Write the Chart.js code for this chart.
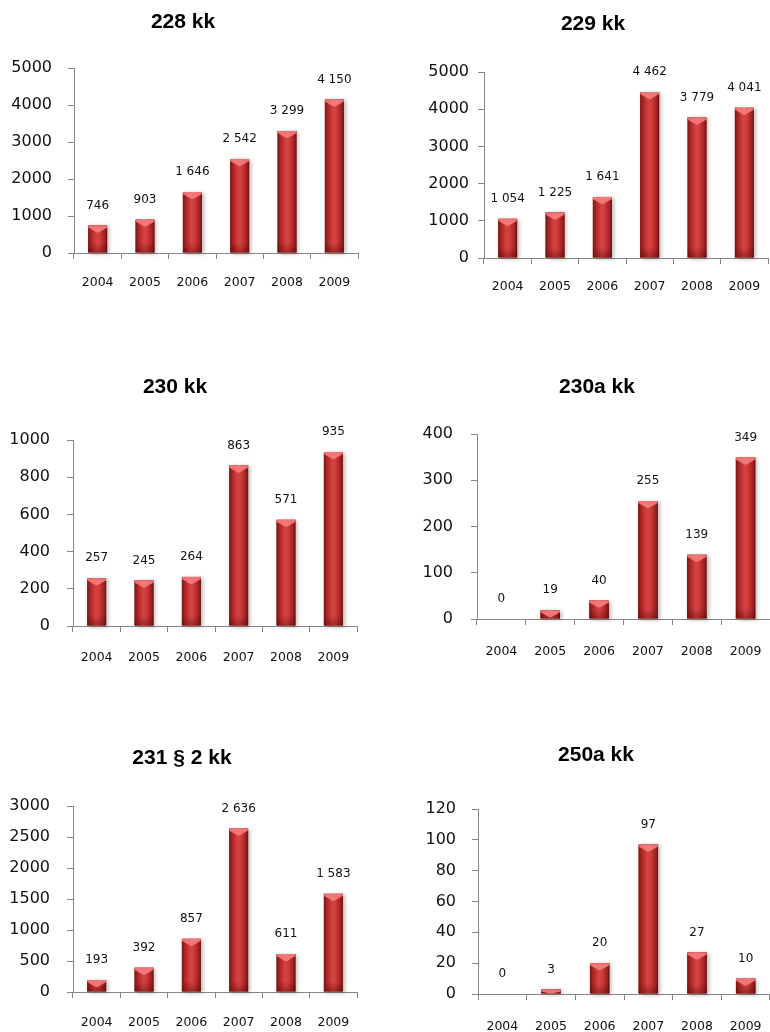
<!DOCTYPE html>
<html>
<head>
    <meta charset="utf-8">
    <title>kk 2004-2009</title>
    <script src="https://cdn.jsdelivr.net/npm/chart.js@4.4.1/dist/chart.umd.min.js"></script>
    <style>
        body { margin: 0; background: #fff; }
        #page { position: relative; width: 770px; height: 1032px; overflow: hidden; }
        #page canvas { position: absolute; }
    </style>
</head>
<body>
<div id="page"></div>
<script>
// datos
const years = ['2004', '2005', '2006', '2007', '2008', '2009'];
const titles = ['228 kk', '229 kk', '230 kk', '230a kk', '231 § 2 kk', '250a kk'];
const v228 = [746, 903, 1646, 2542, 3299, 4150];
const v229 = [1054, 1225, 1641, 4462, 3779, 4041];
const v230 = [257, 245, 264, 863, 571, 935];
const v230a = [0, 19, 40, 255, 139, 349];
const v231 = [193, 392, 857, 2636, 611, 1583];
const v250a = [0, 3, 20, 97, 27, 10];
const yMax = [5000, 5000, 1000, 400, 3000, 120];
const yStep = [1000, 1000, 200, 100, 500, 20];
const series = [v228, v229, v230, v230a, v231, v250a];

// posiciones de cada panel (px en la pagina)
const panels = [
    {left: 0,   top: 0,   w: 385, h: 340, axisX: 74,  plotTop: 68,  plotBottom: 253, plotRight: 358, labelY: 283,  yPad: 16, tx: 183, ty: 22},
    {left: 385, top: 0,   w: 385, h: 340, axisX: 484, plotTop: 72,  plotBottom: 258, plotRight: 768, labelY: 287,  yPad: 9,  tx: 593, ty: 24},
    {left: 0,   top: 340, w: 385, h: 365, axisX: 73,  plotTop: 440, plotBottom: 626, plotRight: 357, labelY: 658,  yPad: 17, tx: 175, ty: 387},
    {left: 385, top: 340, w: 385, h: 365, axisX: 477, plotTop: 434, plotBottom: 619, plotRight: 770, labelY: 652,  yPad: 18, tx: 597, ty: 387},
    {left: 0,   top: 705, w: 385, h: 327, axisX: 73,  plotTop: 806, plotBottom: 992, plotRight: 357, labelY: 1023, yPad: 17, tx: 182, ty: 758},
    {left: 385, top: 705, w: 385, h: 327, axisX: 478, plotTop: 809, plotBottom: 994, plotRight: 770, labelY: 1027, yPad: 16, tx: 596, ty: 755}
];

const axisGray = '#868686';
const fmt = v => String(v).replace(/\B(?=(\d{3})+(?!\d))/g, ' ');

// barras con efecto cilindro + etiquetas + titulo
const excelLook = {
    id: 'excelLook',
    afterDatasetsDraw(chart, args, opts) {
        const ctx = chart.ctx;
        const meta = chart.getDatasetMeta(0);
        const values = chart.data.datasets[0].data;
        meta.data.forEach((bar, i) => {
            const p = bar.getProps(['x', 'y', 'base', 'width'], true);
            const left = p.x - p.width / 2, right = p.x + p.width / 2;
            const top = Math.min(p.y, p.base), h = Math.abs(p.base - p.y);
            if (h >= 0.5) {
                ctx.save();
                const g = ctx.createLinearGradient(left, 0, right, 0);
                g.addColorStop(0, '#7a1414');
                g.addColorStop(0.15, '#a82525');
                g.addColorStop(0.45, '#d84242');
                g.addColorStop(0.62, '#d03b3b');
                g.addColorStop(0.88, '#a02222');
                g.addColorStop(1, '#6a1010');
                ctx.shadowColor = 'rgba(0,0,0,0.28)';
                ctx.shadowBlur = 4;
                ctx.shadowOffsetX = 2;
                ctx.shadowOffsetY = 1;
                ctx.fillStyle = g;
                ctx.fillRect(left, top, p.width, h);
                ctx.restore();

                ctx.save();
                // sombra inferior
                const sh = Math.min(10, h);
                const gb = ctx.createLinearGradient(0, p.base - sh, 0, p.base);
                gb.addColorStop(0, 'rgba(60,0,0,0)');
                gb.addColorStop(1, 'rgba(60,0,0,0.35)');
                ctx.fillStyle = gb;
                ctx.fillRect(left, p.base - sh, p.width, sh);
                // bisel superior
                const d = Math.min(7, h);
                ctx.beginPath();
                ctx.moveTo(left, top);
                ctx.lineTo(right, top);
                ctx.lineTo(right, top + Math.min(2, d));
                ctx.lineTo(p.x + 1, top + d);
                ctx.lineTo(p.x - 1, top + d);
                ctx.lineTo(left, top + Math.min(2, d));
                ctx.closePath();
                ctx.fillStyle = 'rgba(245,125,125,0.9)';
                ctx.fill();
                ctx.restore();
            }
            ctx.save();
            ctx.font = '12px "DejaVu Sans"';
            ctx.fillStyle = '#111';
            ctx.textAlign = 'center';
            ctx.textBaseline = 'middle';
            ctx.fillText(fmt(values[i]), p.x, p.y - 20);
            ctx.restore();
        });
        ctx.save();
        ctx.font = 'bold 21px "Liberation Sans"';
        ctx.fillStyle = '#000';
        ctx.textAlign = 'center';
        ctx.textBaseline = 'middle';
        ctx.fillText(opts.text, opts.x, opts.y);
        ctx.restore();
    }
};

const page = document.getElementById('page');

series.forEach((values, k) => {
    const pn = panels[k];
    const canvas = document.createElement('canvas');
    canvas.width = pn.w;
    canvas.height = pn.h;
    canvas.style.left = pn.left + 'px';
    canvas.style.top = pn.top + 'px';
    page.appendChild(canvas);

    const xHeight = pn.top + pn.h - pn.plotBottom;
    new Chart(canvas, {
        type: 'bar',
        data: {
            labels: years,
            datasets: [{
                data: values,
                backgroundColor: '#c0392f',
                barPercentage: 0.4,
                categoryPercentage: 1
            }]
        },
        options: {
            responsive: false,
            animation: false,
            devicePixelRatio: 1,
            layout: {
                padding: {
                    top: pn.plotTop - pn.top,
                    right: pn.left + pn.w - pn.plotRight,
                    left: 0,
                    bottom: 0
                }
            },
            plugins: {
                legend: {display: false},
                tooltip: {enabled: false},
                excelLook: {text: titles[k], x: pn.tx - pn.left, y: pn.ty - pn.top}
            },
            scales: {
                x: {
                    border: {color: axisGray, width: 1},
                    grid: {drawOnChartArea: false, drawTicks: true, tickLength: 6, color: axisGray},
                    ticks: {
                        color: '#111',
                        font: {family: 'DejaVu Sans', size: 12.5},
                        padding: pn.labelY - pn.plotBottom - 6 - 7.5,
                        maxRotation: 0
                    },
                    afterFit(scale) {
                        scale.height = xHeight;
                        scale.paddingLeft = 0;
                        scale.paddingRight = 0;
                    }
                },
                y: {
                    min: 0,
                    max: yMax[k],
                    border: {color: axisGray, width: 1},
                    grid: {drawOnChartArea: false, drawTicks: true, tickLength: 6, color: axisGray},
                    ticks: {
                        stepSize: yStep[k],
                        color: '#111',
                        font: {family: 'DejaVu Sans', size: 16},
                        padding: pn.yPad,
                        callback: v => String(v)
                    },
                    afterFit(scale) {
                        scale.width = pn.axisX - pn.left;
                    }
                }
            }
        },
        plugins: [excelLook]
    });
});
</script>
</body>
</html>
